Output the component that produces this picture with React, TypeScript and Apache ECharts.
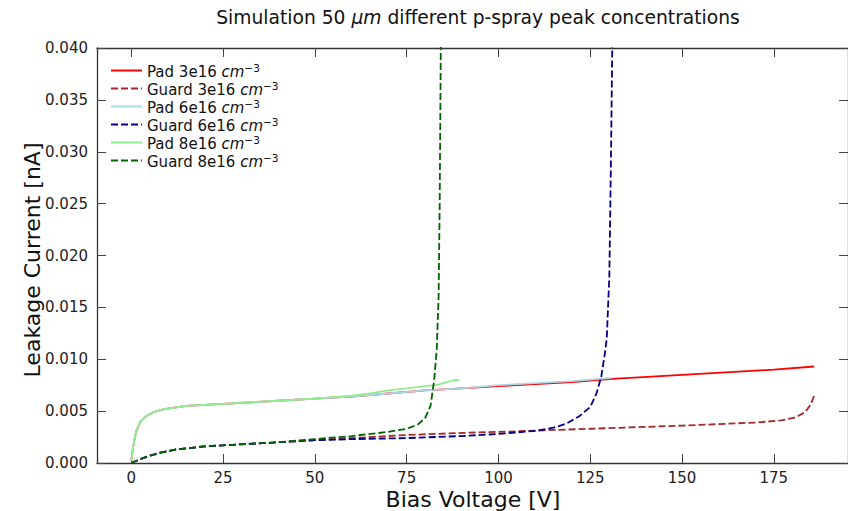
import React, { useEffect, useRef } from "react";
import * as echarts from "echarts";

// ---------- data ----------
const xTicks = [0, 25, 50, 75, 100, 125, 150, 175];
const yTicks = [0, 0.005, 0.01, 0.015, 0.02, 0.025, 0.03, 0.035, 0.04];

const seriesNames = [
  "Pad 3e16",
  "Guard 3e16",
  "Pad 6e16",
  "Guard 6e16",
  "Pad 8e16",
  "Guard 8e16",
];

// Pad 3e16 cm^-3
const pad3V = [0, 0.5, 1, 1.5, 2.5, 4, 6, 9, 15, 25, 40, 50, 60, 70, 80, 90, 100, 110, 120, 131, 150, 175, 186];
const pad3I = [0.0002, 0.0015, 0.0025, 0.0032, 0.004, 0.0045, 0.0049, 0.0052, 0.0055, 0.0057, 0.006, 0.0062, 0.0064, 0.0067, 0.007, 0.0072, 0.0074, 0.0076, 0.0078, 0.0081, 0.0085, 0.009, 0.0093];

// Guard 3e16 cm^-3
const guard3V = [0, 2, 5, 8, 12, 20, 25, 40, 50, 60, 75, 90, 100, 125, 150, 170, 177, 181, 183.5, 185, 186];
const guard3I = [0, 0.0003, 0.0007, 0.001, 0.0013, 0.0016, 0.0017, 0.002, 0.0022, 0.0024, 0.0027, 0.0029, 0.003, 0.0033, 0.0036, 0.0039, 0.0041, 0.0044, 0.0049, 0.0056, 0.0065];

// Pad 6e16 cm^-3
const pad6V = [0, 0.5, 1, 1.5, 2.5, 4, 6, 9, 15, 25, 40, 50, 60, 70, 80, 90, 100, 110, 120, 130.8];
const pad6I = [0.0002, 0.0015, 0.0025, 0.0032, 0.004, 0.0045, 0.0049, 0.0052, 0.0055, 0.0057, 0.006, 0.0062, 0.0064, 0.0067, 0.007, 0.0072, 0.0075, 0.0077, 0.0079, 0.0082];

// Guard 6e16 cm^-3
const guard6V = [0, 2, 5, 8, 12, 20, 25, 40, 50, 60, 75, 90, 100, 110, 115, 118.5, 122, 125, 126.7, 128, 129, 129.5, 130.2, 130.6, 131, 131.2];
const guard6I = [0, 0.0003, 0.0007, 0.001, 0.0013, 0.0016, 0.0017, 0.002, 0.0022, 0.0023, 0.0024, 0.0026, 0.0028, 0.0031, 0.0034, 0.0038, 0.0045, 0.0054, 0.0067, 0.0083, 0.0106, 0.012, 0.018, 0.028, 0.04, 0.045];

// Pad 8e16 cm^-3
const pad8V = [0, 0.5, 1, 1.5, 2.5, 4, 6, 9, 15, 25, 40, 50, 60, 65, 70, 75, 80, 83, 85, 87, 88, 89.3];
const pad8I = [0.0002, 0.0015, 0.0025, 0.0032, 0.004, 0.0045, 0.0049, 0.0052, 0.0055, 0.0057, 0.006, 0.0062, 0.0065, 0.0067, 0.007, 0.0072, 0.0074, 0.0075, 0.0077, 0.0079, 0.008, 0.008];

// Guard 8e16 cm^-3
const guard8V = [0, 2, 5, 8, 12, 20, 25, 40, 50, 60, 70, 75, 78, 80, 81.5, 82.5, 83.2, 83.7, 84, 84.3, 84.4];
const guard8I = [0, 0.0003, 0.0007, 0.001, 0.0013, 0.0016, 0.0017, 0.002, 0.0023, 0.0026, 0.003, 0.0033, 0.0037, 0.0043, 0.0055, 0.008, 0.011, 0.016, 0.025, 0.04, 0.045];

const seriesV = [pad3V, guard3V, pad6V, guard6V, pad8V, guard8V];
const seriesI = [pad3I, guard3I, pad6I, guard6I, pad8I, guard8I];
const seriesColors = ["#ff0000", "#a52a2a", "#add8e6", "#00008b", "#90ee90", "#006400"];
const seriesDashed = [false, true, false, true, false, true];

const X_MIN = -9.33;
const X_MAX = 195.2;
const Y_MIN = 0;
const Y_MAX = 0.04;

const FONT = "DejaVu Sans";

export default function App() {
  const ref = useRef<HTMLDivElement>(null);

  useEffect(() => {
    if (!ref.current) return;
    const chart = echarts.init(ref.current, null, { renderer: "svg" });

    const axisLineStyle = { color: "#333", width: 1.3 };
    const tickStyle = { show: true, inside: true, length: 9, lineStyle: { color: "#444", width: 1 } };

    const series = seriesNames.map((name, k) => ({
      name,
      type: "line",
      xAxisIndex: 0,
      yAxisIndex: 0,
      showSymbol: false,
      symbol: "none",
      clip: true,
      smooth: false,
      z: 2 + k,
      color: seriesColors[k],
      itemStyle: { color: seriesColors[k] },
      lineStyle: {
        color: seriesColors[k],
        width: 1.8,
        type: seriesDashed[k] ? [7, 3] : "solid",
      },
      data: seriesV[k].map((v, i) => [v, seriesI[k][i]]),
    }));

    chart.setOption({
      animation: false,
      backgroundColor: "#ffffff",
      textStyle: { fontFamily: FONT },
      title: {
        text: "Simulation 50 {i|μm} different p-spray peak concentrations",
        left: 473,
        top: 3,
        textAlign: "center",
        textStyle: {
          fontFamily: FONT,
          fontSize: 18.7,
          fontWeight: "normal",
          color: "#111",
          rich: {
            i: { fontFamily: FONT, fontSize: 18.7, fontStyle: "italic", color: "#111" },
          },
        },
      },
      legend: {
        orient: "vertical",
        left: 105,
        top: 57,
        padding: 5,
        itemWidth: 31,
        itemHeight: 14,
        itemGap: 1,
        itemStyle: { opacity: 0 },
        formatter: (name: string) => `{n|${name} }{i|cm}{s|−3}`,
        textStyle: {
          fontFamily: FONT,
          fontSize: 15,
          color: "#111",
          lineHeight: 17,
          rich: {
            n: { fontFamily: FONT, fontSize: 15, color: "#111", lineHeight: 17, verticalAlign: "bottom" },
            i: { fontFamily: FONT, fontSize: 15, fontStyle: "italic", color: "#111", lineHeight: 17, verticalAlign: "bottom" },
            s: { fontFamily: FONT, fontSize: 10.5, color: "#111", verticalAlign: "top", lineHeight: 9 },
          },
        },
        data: seriesNames,
      },
      grid: { left: 97, right: 0, top: 48, bottom: 48, containLabel: false },
      xAxis: [
        {
          type: "value",
          position: "bottom",
          min: X_MIN,
          max: X_MAX,
          axisLine: { show: true, onZero: false, lineStyle: axisLineStyle },
          axisTick: { ...tickStyle, customValues: xTicks },
          axisLabel: {
            customValues: xTicks,
            margin: 7,
            fontFamily: FONT,
            fontSize: 15,
            color: "#222",
            formatter: (v: number) => String(v),
          },
          splitLine: { show: false },
        },
        {
          type: "value",
          position: "top",
          min: X_MIN,
          max: X_MAX,
          axisLine: { show: true, onZero: false, lineStyle: axisLineStyle },
          axisTick: { ...tickStyle, customValues: xTicks },
          axisLabel: { show: false, customValues: xTicks },
          splitLine: { show: false },
        },
      ],
      yAxis: [
        {
          type: "value",
          position: "left",
          min: Y_MIN,
          max: Y_MAX,
          interval: 0.005,
          axisLine: { show: true, onZero: false, lineStyle: axisLineStyle },
          axisTick: { ...tickStyle, customValues: yTicks },
          axisLabel: {
            customValues: yTicks,
            margin: 9,
            fontFamily: FONT,
            fontSize: 15,
            color: "#222",
            formatter: (v: number) => v.toFixed(3),
          },
          splitLine: { show: false },
        },
        {
          type: "value",
          position: "right",
          min: Y_MIN,
          max: Y_MAX,
          interval: 0.005,
          axisLine: { show: true, onZero: false, lineStyle: axisLineStyle },
          axisTick: { ...tickStyle, customValues: yTicks },
          axisLabel: { show: false, customValues: yTicks },
          splitLine: { show: false },
        },
      ],
      graphic: [
        {
          type: "text",
          x: 473,
          y: 499.5,
          style: {
            text: "Bias Voltage [V]",
            fontFamily: FONT,
            fontSize: 22,
            fill: "#111",
            textAlign: "center",
            textVerticalAlign: "middle",
          },
        },
        {
          type: "text",
          x: 32,
          y: 260,
          rotation: Math.PI / 2,
          style: {
            text: "Leakage Current [nA]",
            fontFamily: FONT,
            fontSize: 22,
            fill: "#111",
            textAlign: "center",
            textVerticalAlign: "middle",
          },
        },
      ],
      series,
    });

    return () => {
      chart.dispose();
    };
  }, []);

  return (
    <div
      ref={ref}
      style={{ position: "fixed", left: 0, top: 0, width: 848, height: 511, background: "#fff" }}
    />
  );
}
